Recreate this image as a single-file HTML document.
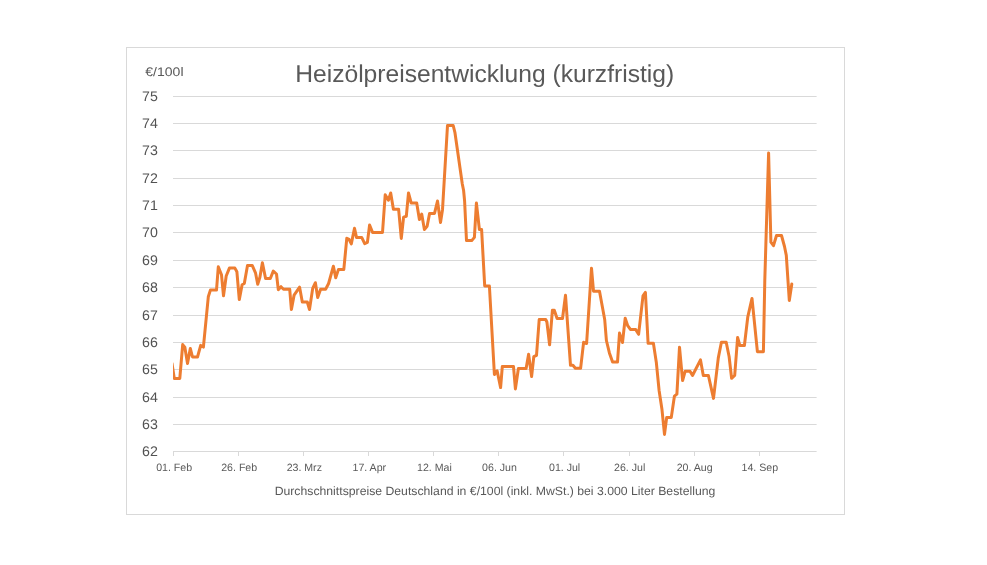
<!DOCTYPE html>
<html><head><meta charset="utf-8"><title>Heizölpreisentwicklung</title>
<style>
html,body{margin:0;padding:0;background:#fff;}
body{width:987px;height:565px;overflow:hidden;font-family:"Liberation Sans",sans-serif;}
svg{display:block;will-change:transform;font-family:"Liberation Sans",sans-serif;}
.g line{stroke:#d9d9d9;stroke-width:1;}
.t{fill:#595959;}
svg text{text-rendering:geometricPrecision;}
</style></head><body>
<svg width="987" height="565" viewBox="0 0 987 565">
<rect x="0" y="0" width="987" height="565" fill="#ffffff"/>
<rect x="126.5" y="47.5" width="718" height="467" fill="#ffffff" stroke="#d9d9d9" stroke-width="1"/>
<g class="g">
<line x1="173.0" x2="816.6" y1="96.5" y2="96.5"/>
<line x1="173.0" x2="816.6" y1="123.5" y2="123.5"/>
<line x1="173.0" x2="816.6" y1="150.5" y2="150.5"/>
<line x1="173.0" x2="816.6" y1="178.5" y2="178.5"/>
<line x1="173.0" x2="816.6" y1="205.5" y2="205.5"/>
<line x1="173.0" x2="816.6" y1="232.5" y2="232.5"/>
<line x1="173.0" x2="816.6" y1="260.5" y2="260.5"/>
<line x1="173.0" x2="816.6" y1="287.5" y2="287.5"/>
<line x1="173.0" x2="816.6" y1="315.5" y2="315.5"/>
<line x1="173.0" x2="816.6" y1="342.5" y2="342.5"/>
<line x1="173.0" x2="816.6" y1="369.5" y2="369.5"/>
<line x1="173.0" x2="816.6" y1="397.5" y2="397.5"/>
<line x1="173.0" x2="816.6" y1="424.5" y2="424.5"/>
<line x1="173.0" x2="816.6" y1="451.5" y2="451.5"/>
</g>
<g class="g" shape-rendering="crispEdges">
<line x1="173.5" x2="173.5" y1="451.5" y2="456"/>
<line x1="238.5" x2="238.5" y1="451.5" y2="456"/>
<line x1="303.5" x2="303.5" y1="451.5" y2="456"/>
<line x1="368.5" x2="368.5" y1="451.5" y2="456"/>
<line x1="433.5" x2="433.5" y1="451.5" y2="456"/>
<line x1="498.5" x2="498.5" y1="451.5" y2="456"/>
<line x1="563.5" x2="563.5" y1="451.5" y2="456"/>
<line x1="629.5" x2="629.5" y1="451.5" y2="456"/>
<line x1="694.5" x2="694.5" y1="451.5" y2="456"/>
<line x1="759.5" x2="759.5" y1="451.5" y2="456"/>
</g>
<text class="t" x="484.7" y="81.8" font-size="24.4" text-anchor="middle" textLength="379" lengthAdjust="spacingAndGlyphs">Heizölpreisentwicklung (kurzfristig)</text>
<text class="t" x="145.3" y="75.8" font-size="12.4" textLength="38.2" lengthAdjust="spacingAndGlyphs">€/100l</text>
<g class="t" font-size="14" style="fill:#525252">
<text x="157.9" y="101.4" text-anchor="end" textLength="15.8" lengthAdjust="spacingAndGlyphs">75</text>
<text x="157.9" y="128.4" text-anchor="end" textLength="15.8" lengthAdjust="spacingAndGlyphs">74</text>
<text x="157.9" y="155.4" text-anchor="end" textLength="15.8" lengthAdjust="spacingAndGlyphs">73</text>
<text x="157.9" y="183.4" text-anchor="end" textLength="15.8" lengthAdjust="spacingAndGlyphs">72</text>
<text x="157.9" y="210.4" text-anchor="end" textLength="15.8" lengthAdjust="spacingAndGlyphs">71</text>
<text x="157.9" y="237.4" text-anchor="end" textLength="15.8" lengthAdjust="spacingAndGlyphs">70</text>
<text x="157.9" y="265.4" text-anchor="end" textLength="15.8" lengthAdjust="spacingAndGlyphs">69</text>
<text x="157.9" y="292.4" text-anchor="end" textLength="15.8" lengthAdjust="spacingAndGlyphs">68</text>
<text x="157.9" y="320.4" text-anchor="end" textLength="15.8" lengthAdjust="spacingAndGlyphs">67</text>
<text x="157.9" y="347.4" text-anchor="end" textLength="15.8" lengthAdjust="spacingAndGlyphs">66</text>
<text x="157.9" y="374.4" text-anchor="end" textLength="15.8" lengthAdjust="spacingAndGlyphs">65</text>
<text x="157.9" y="402.4" text-anchor="end" textLength="15.8" lengthAdjust="spacingAndGlyphs">64</text>
<text x="157.9" y="429.4" text-anchor="end" textLength="15.8" lengthAdjust="spacingAndGlyphs">63</text>
<text x="157.9" y="456.4" text-anchor="end" textLength="15.8" lengthAdjust="spacingAndGlyphs">62</text>
</g>
<g class="t" font-size="10.6">
<text x="174.1" y="471.2" text-anchor="middle">01. Feb</text>
<text x="239.2" y="471.2" text-anchor="middle">26. Feb</text>
<text x="304.3" y="471.2" text-anchor="middle">23. Mrz</text>
<text x="369.3" y="471.2" text-anchor="middle">17. Apr</text>
<text x="434.4" y="471.2" text-anchor="middle">12. Mai</text>
<text x="499.5" y="471.2" text-anchor="middle">06. Jun</text>
<text x="564.6" y="471.2" text-anchor="middle">01. Jul</text>
<text x="629.7" y="471.2" text-anchor="middle">26. Jul</text>
<text x="694.7" y="471.2" text-anchor="middle">20. Aug</text>
<text x="759.8" y="471.2" text-anchor="middle">14. Sep</text>
</g>
<text class="t" x="495" y="495.2" font-size="12" text-anchor="middle" textLength="440.7" lengthAdjust="spacingAndGlyphs">Durchschnittspreise Deutschland in €/100l (inkl. MwSt.) bei 3.000 Liter Bestellung</text>
<clipPath id="cp"><rect x="173" y="90" width="650" height="370"/></clipPath>
<polyline clip-path="url(#cp)" points="172.0,363.5 174.3,378.4 179.8,378.4 182.7,344.6 184.8,347.1 187.5,363.5 190.3,348.4 192.5,357.0 197.5,357.0 200.7,345.4 203.4,347.1 208.3,296.8 210.4,290.1 216.5,290.1 218.3,266.8 221.5,274.8 223.5,295.8 226.2,276.0 229.4,268.1 234.9,268.1 236.9,271.8 239.3,299.6 242.1,284.7 244.3,283.5 247.5,265.4 252.2,265.4 255.5,272.8 257.7,284.2 259.9,277.3 262.4,262.7 265.6,278.5 270.3,278.5 273.3,271.1 276.5,274.0 278.3,289.7 281.0,286.7 283.5,289.2 289.7,289.2 291.4,309.5 294.1,295.1 299.6,287.2 302.3,302.0 307.3,302.0 309.5,309.5 312.7,288.4 315.4,282.7 317.7,297.6 320.6,289.2 325.6,289.2 328.6,283.5 333.4,266.2 335.7,277.8 338.4,269.6 343.8,269.6 346.8,238.2 349.0,239.4 351.3,243.9 354.5,228.2 356.5,237.4 361.7,237.4 364.7,243.6 367.4,242.4 369.6,225.0 372.6,232.5 382.5,232.5 385.2,194.8 388.4,200.2 390.7,193.0 393.4,209.2 398.6,209.2 401.3,238.4 403.6,217.1 406.3,216.3 408.5,193.0 411.2,203.0 416.7,203.0 419.4,219.6 421.7,214.1 424.4,229.5 427.1,226.3 429.6,213.4 434.5,213.4 437.5,201.0 440.5,222.5 442.5,209.7 447.5,125.5 453.2,125.5 454.9,132.3 462.3,184.0 463.6,190.5 464.6,201.0 466.5,240.6 471.7,240.6 474.4,237.4 476.4,203.0 479.4,229.5 481.6,229.5 484.7,286.0 489.4,286.0 494.4,374.5 497.1,370.8 500.6,387.6 502.3,366.6 513.5,366.6 515.4,388.9 518.4,368.5 526.1,368.5 528.6,354.2 531.6,376.5 533.8,356.7 536.5,355.4 539.2,319.5 545.7,319.5 546.9,322.0 549.6,344.8 552.4,310.3 554.3,310.3 557.1,318.5 562.5,318.5 565.5,295.2 570.5,365.3 572.9,365.3 575.4,368.3 580.6,368.3 583.6,342.3 586.6,343.5 591.5,268.2 593.5,291.2 599.5,291.2 604.7,319.5 606.4,340.5 609.4,352.9 612.6,362.1 617.5,362.1 619.5,333.1 622.5,342.5 625.2,318.2 627.7,325.7 630.4,329.4 635.6,329.4 638.6,334.3 643.0,295.9 645.4,292.4 648.1,343.3 653.4,343.3 656.3,362.2 659.1,390.5 661.9,408.9 664.5,434.4 666.7,417.4 671.3,417.4 674.4,396.2 676.9,394.2 679.5,347.2 682.6,380.6 685.2,371.2 690.0,371.2 692.5,375.5 700.5,359.9 703.3,375.5 708.4,375.5 713.5,398.4 718.3,357.9 721.4,342.3 726.2,342.3 729.1,356.5 731.6,378.3 734.7,375.5 737.6,337.5 739.8,345.5 744.4,345.5 747.8,316.8 752.0,298.4 757.4,351.7 763.4,351.7 764.8,280.0 768.6,153.0 770.9,242.1 773.5,245.7 776.5,235.5 781.5,235.5 784.5,246.5 786.3,255.4 789.3,300.5 791.8,284.1" fill="none" stroke="#ed7d31" stroke-width="3" stroke-linejoin="round" stroke-linecap="round"/>
</svg>
</body></html>
